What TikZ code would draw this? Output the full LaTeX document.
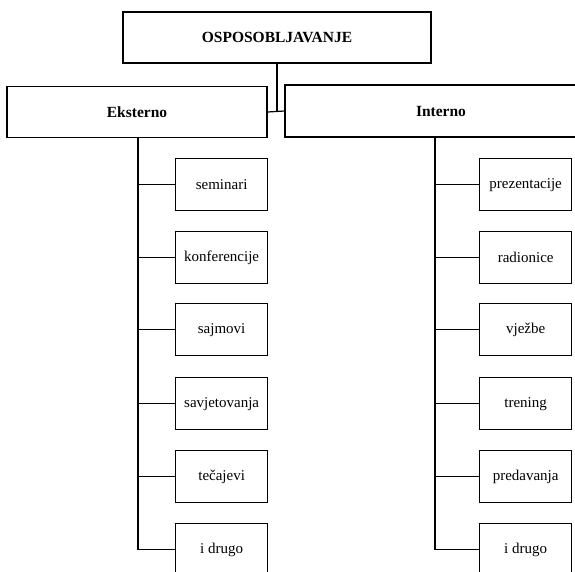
\documentclass[tikz,border=0pt]{standalone}
\usepackage{fontspec}
\setmainfont{Liberation Serif}
\begin{document}
\begin{tikzpicture}[x=1pt,y=-1pt,
  box/.style={draw, line width=1.3pt, inner sep=0pt, font=\fontsize{15}{18}\selectfont},
  head/.style={box, font=\fontsize{15.5}{18}\selectfont\bfseries},
  leaf/.style={box, minimum width=92pt, minimum height=52pt, anchor=north west},
  link/.style={line width=1.2pt}]
\path[use as bounding box] (0,0) rectangle (575,571);
\clip (0,0) rectangle (575,571);

% root and the two branches
\node[head, minimum width=308pt, minimum height=51pt] (root) at (277,37.5) {OSPOSOBLJAVANJE};
\node[head, minimum width=260pt, minimum height=51pt] (ek) at (137,112) {Eksterno};
\node[head, minimum width=312pt, minimum height=52pt] (in) at (441,111) {Interno};

\draw[link] (root.south) -- (root.south |- ek.east);
\draw[link] (ek.east) -- (in.west);

% external forms
\node[leaf] (e1) at (175,158) {seminari};
\node[leaf] (e2) at (175,231) {konferencije};
\node[leaf] (e3) at (175,303) {sajmovi};
\node[leaf] (e4) at (175,377) {savjetovanja};
\node[leaf] (e5) at (175,450) {tečajevi};
\node[leaf] (e6) at (175,523) {i drugo};

% internal forms
\node[leaf] (i1) at (479,158) {prezentacije};
\node[leaf] (i2) at (479,231) {radionice};
\node[leaf] (i3) at (479,303) {vježbe};
\node[leaf] (i4) at (479,377) {trening};
\node[leaf] (i5) at (479,450) {predavanja};
\node[leaf] (i6) at (479,523) {i drugo};

% bus lines
\coordinate (lb) at (138,138);
\coordinate (rb) at (435,137);
\draw[link] (lb) |- (e6.west);
\draw[link] (rb) |- (i6.west);
\foreach \k in {1,...,5}{
  \draw[link] (lb |- e\k.west) -- (e\k.west);
  \draw[link] (rb |- i\k.west) -- (i\k.west);
}
\end{tikzpicture}
\end{document}
